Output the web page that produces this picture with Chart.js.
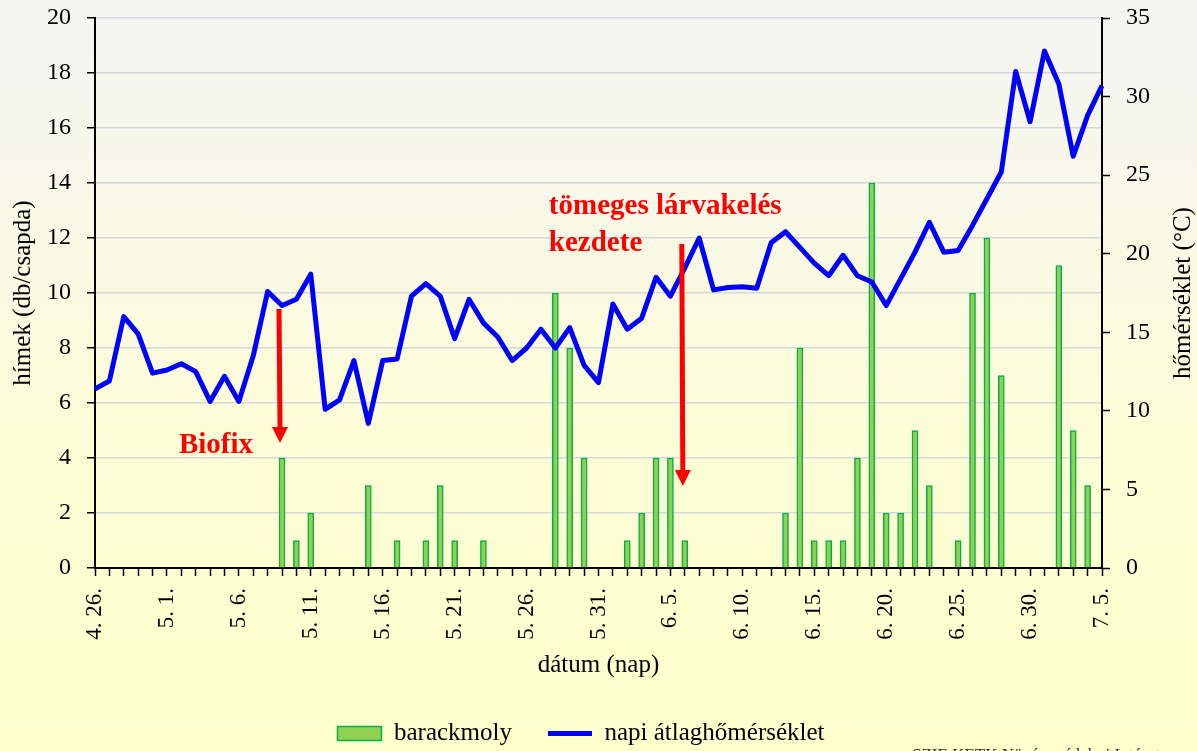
<!DOCTYPE html>
<html>
<head>
<meta charset="utf-8">
<script src="https://cdn.jsdelivr.net/npm/chart.js@4"></script>
<style>
  html, body { margin: 0; padding: 0; }
  body {
    width: 1197px; height: 751px; overflow: hidden;
    background: linear-gradient(#f4f5f3 0%, #f8f9e6 30%, #fdfdd6 60%, #ffffcc 100%);
  }
  #wrap { width: 1197px; height: 751px; }
</style>
</head>
<body>
<div id="wrap"><canvas id="chart" width="1197" height="751"></canvas></div>
<script>
const dates = [
  "4. 26.", "4. 27.", "4. 28.", "4. 29.", "4. 30.",
  "5. 1.", "5. 2.", "5. 3.", "5. 4.", "5. 5.", "5. 6.", "5. 7.", "5. 8.", "5. 9.", "5. 10.",
  "5. 11.", "5. 12.", "5. 13.", "5. 14.", "5. 15.", "5. 16.", "5. 17.", "5. 18.", "5. 19.", "5. 20.",
  "5. 21.", "5. 22.", "5. 23.", "5. 24.", "5. 25.", "5. 26.", "5. 27.", "5. 28.", "5. 29.", "5. 30.", "5. 31.",
  "6. 1.", "6. 2.", "6. 3.", "6. 4.", "6. 5.", "6. 6.", "6. 7.", "6. 8.", "6. 9.", "6. 10.",
  "6. 11.", "6. 12.", "6. 13.", "6. 14.", "6. 15.", "6. 16.", "6. 17.", "6. 18.", "6. 19.", "6. 20.",
  "6. 21.", "6. 22.", "6. 23.", "6. 24.", "6. 25.", "6. 26.", "6. 27.", "6. 28.", "6. 29.", "6. 30.",
  "7. 1.", "7. 2.", "7. 3.", "7. 4.", "7. 5."
];
// males per trap (db/csapda)
const moths = [
  0, 0, 0, 0, 0, 0, 0, 0, 0, 0, 0, 0, 0, 4, 1, 2, 0, 0, 0, 3,
  0, 1, 0, 1, 3, 1, 0, 1, 0, 0, 0, 0, 10, 8, 4, 0, 0, 1, 2, 4,
  4, 1, 0, 0, 0, 0, 0, 0, 2, 8, 1, 1, 1, 4, 14, 2, 2, 5, 3, 0,
  1, 10, 12, 7, 0, 0, 0, 11, 5, 3, 0
];
// daily mean temperature (°C)
const temps = [
  11.4, 11.9, 16.0, 14.9, 12.4, 12.6, 13.0, 12.5, 10.6, 12.2,
  10.6, 13.5, 17.6, 16.7, 17.1, 18.7, 10.1, 10.7, 13.2, 9.2,
  13.2, 13.3, 17.3, 18.1, 17.3, 14.6, 17.1, 15.6, 14.7, 13.2,
  14.0, 15.2, 14.0, 15.3, 12.9, 11.8, 16.8, 15.2, 15.9, 18.5,
  17.3, 19.1, 21.0, 17.7, 17.85, 17.9, 17.8, 20.7, 21.4, 20.4,
  19.4, 18.6, 19.9, 18.6, 18.2, 16.7, 18.4, 20.1, 22.0, 20.1,
  20.2, 21.8, 23.5, 25.2, 31.6, 28.4, 32.9, 30.8, 26.2, 28.8, 30.7
];

const FONT = "'Liberation Serif', 'Times New Roman', serif";
const barFill = "#92d050";
const barLine = "#00b050";
const tempColor = "#0000ff";

const notes = {
  id: "notes",
  afterDatasetsDraw(c) {
    const ctx = c.ctx, x = c.scales.x, y = c.scales.y;
    const arrow = (i, from, to) => {
      const px = x.getPixelForValue(i) - 2;
      const top = y.getPixelForValue(from), tip = y.getPixelForValue(to);
      ctx.save();
      ctx.strokeStyle = "#ff0000";
      ctx.fillStyle = "#ff0000";
      ctx.lineWidth = 5;
      ctx.beginPath();
      ctx.moveTo(px - 1, top);
      ctx.lineTo(px, tip - 14);
      ctx.stroke();
      ctx.beginPath();
      ctx.moveTo(px - 8, tip - 16);
      ctx.lineTo(px + 8, tip - 16);
      ctx.lineTo(px, tip);
      ctx.closePath();
      ctx.fill();
      ctx.restore();
    };
    arrow(13, 9.42, 4.55);
    arrow(41, 11.78, 2.98);

    ctx.save();
    ctx.fillStyle = "#ff0000";
    ctx.font = "bold 29px " + FONT;
    ctx.textBaseline = "alphabetic";
    ctx.textAlign = "right";
    ctx.fillText("Biofix", x.getPixelForValue(13) - 29, y.getPixelForValue(4.2));
    ctx.textAlign = "left";
    ctx.fillText("tömeges lárvakelés", x.getPixelForValue(31.55), y.getPixelForValue(12.87));
    ctx.fillText("kezdete", x.getPixelForValue(31.55), y.getPixelForValue(11.52));
    ctx.restore();
  },
  afterDraw(c) {
    const ctx = c.ctx, y1 = c.scales.y1, a = c.chartArea;
    ctx.save();
    ctx.fillStyle = "#000";
    ctx.font = "25px " + FONT;
    ctx.translate(y1.right + 21, (a.top + a.bottom) / 2);
    ctx.rotate(-Math.PI / 2);
    ctx.textAlign = "center";
    ctx.textBaseline = "middle";
    ctx.fillText("hőmérséklet (°C)", 0, 0);
    ctx.restore();

    ctx.save();
    ctx.fillStyle = "#333";
    ctx.font = "17px " + FONT;
    ctx.textBaseline = "top";
    ctx.fillText("SZIE KETK Növényvédelmi Intézet", 912, 747);
    ctx.restore();
  }
};

new Chart(document.getElementById("chart"), {
  type: "bar",
  data: {
    labels: dates,
    datasets: [
      {
        type: "bar",
        label: "barackmoly",
        data: moths,
        yAxisID: "y",
        backgroundColor: barFill,
        borderColor: barLine,
        borderWidth: 1.5,
        barThickness: 6,
        order: 1,
      },
      {
        type: "line",
        label: "napi átlaghőmérséklet",
        data: temps,
        yAxisID: "y1",
        borderColor: tempColor,
        borderWidth: 5,
        pointRadius: 0,
        tension: 0,
        borderJoinStyle: "round",
        order: 0,
      },
    ],
  },
  options: {
    responsive: false,
    animation: false,
    devicePixelRatio: 1,
    layout: { padding: { top: 0, right: 35, left: 0, bottom: -5 } },
    plugins: {
      tooltip: { enabled: false },
      legend: {
        position: "bottom",
        labels: {
          color: "#000",
          font: { family: FONT, size: 25 },
          usePointStyle: true,
          pointStyleWidth: 44,
          boxHeight: 14,
          padding: 36,
          generateLabels: () => [
            { text: "barackmoly", fillStyle: barFill, strokeStyle: barLine, lineWidth: 1.5, pointStyle: "rect", datasetIndex: 0, hidden: false },
            { text: "napi átlaghőmérséklet", fillStyle: tempColor, strokeStyle: tempColor, lineWidth: 5, pointStyle: "line", datasetIndex: 1, hidden: false },
          ],
        },
      },
    },
    scales: {
      x: {
        offset: false,
        afterFit: (s) => { s.height = 117; },
        grid: { offset: false, drawOnChartArea: false, color: "#000", tickLength: 8, tickWidth: 1.5 },
        border: { color: "#000", width: 2 },
        ticks: {
          autoSkip: false,
          minRotation: 90,
          maxRotation: 90,
          padding: 12,
          color: "#000",
          font: { family: FONT, size: 23 },
          callback: (v, i) => (i % 5 === 0 ? dates[i] : ""),
        },
        title: {
          display: true,
          text: "dátum (nap)",
          color: "#000",
          font: { family: FONT, size: 25 },
          padding: { top: 0, bottom: 5 },
        },
      },
      y: {
        position: "left",
        min: 0,
        max: 20,
        afterFit: (s) => { s.width = 95; s.paddingTop = 18; s.paddingBottom = 12; },
        ticks: { stepSize: 2, padding: 16, color: "#000", font: { family: FONT, size: 24 } },
        grid: { color: "#d6d6dc", lineWidth: 1.5, tickColor: "#000", tickLength: 8, tickWidth: 1.5 },
        border: { color: "#000", width: 2 },
        title: {
          display: true,
          text: "hímek (db/csapda)",
          color: "#000",
          font: { family: FONT, size: 25 },
          padding: { top: 8, bottom: 0 },
        },
      },
      y1: {
        position: "right",
        min: 0,
        max: 35,
        afterFit: (s) => { s.width = 60; s.paddingTop = 18; s.paddingBottom = 12; },
        ticks: { stepSize: 5, padding: 16, color: "#000", font: { family: FONT, size: 24 } },
        grid: { drawOnChartArea: false, color: "#000", tickLength: 8, tickWidth: 1.5 },
        border: { color: "#000", width: 2 },
      },
    },
  },
  plugins: [notes],
});
</script>
</body>
</html>
